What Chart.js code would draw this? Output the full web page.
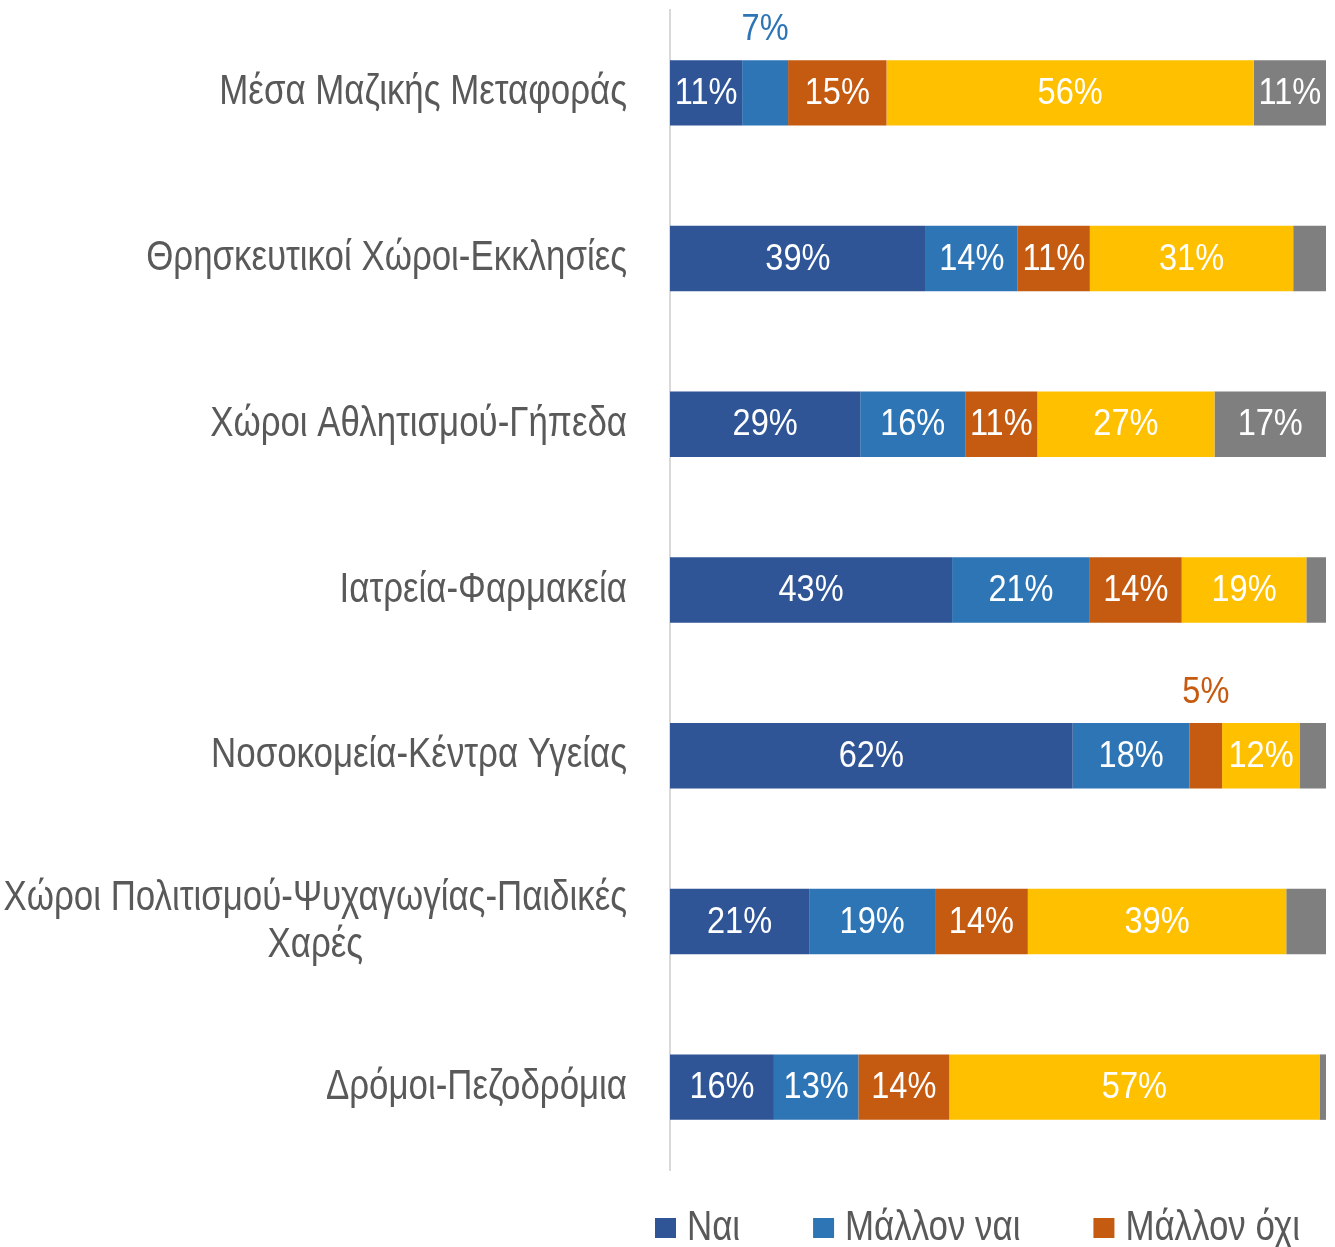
<!DOCTYPE html>
<html>
<head>
<meta charset="utf-8">
<script src="https://cdn.jsdelivr.net/npm/chart.js@4.4.0/dist/chart.umd.min.js"></script>
<style>
html,body{margin:0;padding:0;background:#ffffff;overflow:hidden;}
canvas{display:block;}
</style>
</head>
<body>
<canvas id="c" width="1335" height="1247" style="width:1335px;height:1247px"></canvas>
<script>
const categories = [
  'Μέσα Μαζικής Μεταφοράς',
  'Θρησκευτικοί Χώροι-Εκκλησίες',
  'Χώροι Αθλητισμού-Γήπεδα',
  'Ιατρεία-Φαρμακεία',
  'Νοσοκομεία-Κέντρα Υγείας',
  ['Χώροι Πολιτισμού-Ψυχαγωγίας-Παιδικές', 'Χαρές'],
  'Δρόμοι-Πεζοδρόμια'
];
const seriesNames = ['Ναι', 'Μάλλον ναι', 'Μάλλον όχι', 'Όχι', 'Δεν γνωρίζω'];
const nai       = [11, 39, 29, 43, 62, 21, 16];
const mallonNai = [7, 14, 16, 21, 18, 19, 13];
const mallonOxi = [15, 11, 11, 14, 5, 14, 14];
const oxi       = [56, 31, 27, 19, 12, 39, 57];
const dg        = [11, 5, 17, 3, 4, 6, 1];
const seriesColors = ['#2F5597', '#2E75B6', '#C55A11', '#FFC000', '#7F7F7F'];

const rawSeries = [nai, mallonNai, mallonOxi, oxi, dg];
const rowTotals = categories.map((_, i) => rawSeries.reduce((s, arr) => s + arr[i], 0));

const FONT = '"Liberation Sans", Arial, sans-serif';
const TEXT_COLOR = '#595959';
const SX = 0.83;      // horizontal condensing of category / legend text
const SX_LBL = 0.88;  // horizontal condensing of value labels

function drawText(ctx, text, x, y, align, sx) {
  ctx.save();
  ctx.translate(x, y);
  ctx.scale(sx, 1);
  ctx.textAlign = align;
  ctx.fillText(text, 0, 0);
  ctx.restore();
}

const datasets = rawSeries.map((arr, k) => ({
  label: seriesNames[k],
  data: arr.map((v, i) => v / rowTotals[i] * 100),
  backgroundColor: seriesColors[k],
  borderWidth: 0,
  categoryPercentage: 1.0,
  barPercentage: 0.395
}));

const barLabels = {
  id: 'barLabels',
  afterDatasetsDraw(chart) {
    const ctx = chart.ctx;
    ctx.save();
    ctx.font = '37px ' + FONT;
    ctx.textBaseline = 'middle';
    chart.data.datasets.forEach((ds, di) => {
      const meta = chart.getDatasetMeta(di);
      meta.data.forEach((bar, i) => {
        const v = rawSeries[di][i];
        const cx = (bar.x + bar.base) / 2;
        if (v >= 10) {
          ctx.fillStyle = '#ffffff';
          drawText(ctx, v + '%', cx, bar.y + 1, 'center', SX_LBL);
        } else if (di < 4) {
          ctx.fillStyle = seriesColors[di];
          drawText(ctx, v + '%', cx, bar.y - 63, 'center', SX_LBL);
        }
      });
    });
    ctx.restore();
  }
};

const catLabels = {
  id: 'catLabels',
  afterDraw(chart) {
    const ctx = chart.ctx;
    const ys = chart.scales.y;
    ctx.save();
    ctx.font = '42px ' + FONT;
    ctx.fillStyle = TEXT_COLOR;
    ctx.textBaseline = 'middle';
    const rightEdge = 627;
    const lh = 47;
    categories.forEach((c, i) => {
      const lines = Array.isArray(c) ? c : [c];
      const widest = Math.max(...lines.map(l => ctx.measureText(l).width * SX));
      const cx = rightEdge - widest / 2;
      const y0 = ys.getPixelForValue(i) - (lines.length - 1) * lh / 2;
      lines.forEach((l, j) => drawText(ctx, l, cx, y0 + j * lh, 'center', SX));
    });
    ctx.restore();
  }
};

const legendDraw = {
  id: 'legendDraw',
  afterDraw(chart) {
    const ctx = chart.ctx;
    ctx.save();
    ctx.font = '42px ' + FONT;
    ctx.textBaseline = 'middle';
    let x = 655;
    const yc = chart.chartArea.bottom + 58;
    for (let k = 0; k < 3; k++) {
      ctx.fillStyle = seriesColors[k];
      ctx.fillRect(x, yc - 10, 21, 20);
      ctx.fillStyle = TEXT_COLOR;
      const tx = x + 32;
      drawText(ctx, seriesNames[k], tx, yc, 'left', SX);
      x = tx + ctx.measureText(seriesNames[k]).width * SX + 73;
    }
    ctx.restore();
  }
};

new Chart(document.getElementById('c'), {
  type: 'bar',
  data: { labels: categories, datasets: datasets },
  options: {
    indexAxis: 'y',
    responsive: false,
    animation: false,
    devicePixelRatio: 1,
    layout: { padding: { top: 10, right: 9, bottom: 77, left: 0 } },
    plugins: { legend: { display: false }, tooltip: { enabled: false } },
    scales: {
      x: { stacked: true, min: 0, max: 100, display: false },
      y: {
        stacked: true,
        grid: { display: false, drawTicks: false },
        border: { display: true, color: '#D9D9D9', width: 2 },
        ticks: { display: false },
        afterFit(scale) { scale.width = 670; }
      }
    }
  },
  plugins: [barLabels, catLabels, legendDraw]
});
</script>
</body>
</html>
